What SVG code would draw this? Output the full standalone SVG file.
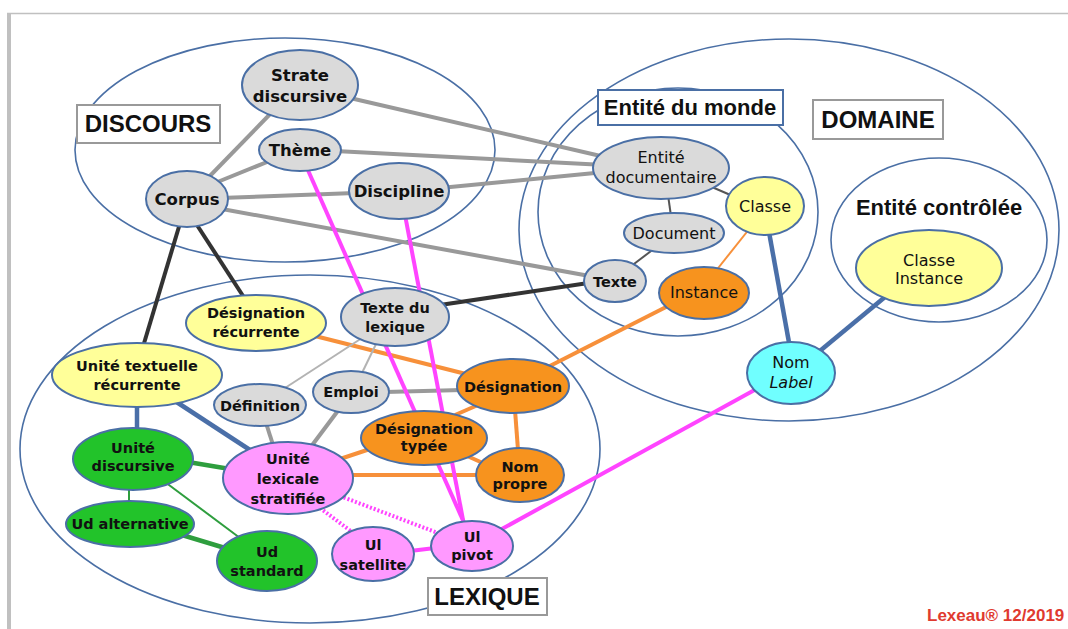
<svg xmlns="http://www.w3.org/2000/svg" width="1068" height="629" viewBox="0 0 1068 629">
<style>
.c{fill:none;stroke:#4a6fa5;stroke-width:1.6}
.n ellipse{stroke:#4a6fa5;stroke-width:2}
.g{fill:#dadada}.y{fill:#ffff99}.o{fill:#f7931e}.gr{fill:#22c32a}.p{fill:#ff99ff}.cy{fill:#70ffff}
.t{font-family:"DejaVu Sans",sans-serif;font-weight:bold;font-size:14.5px;fill:#111;text-anchor:middle}
.tb{font-size:16.5px}
.tr{font-weight:normal;font-size:16px}
.lb{fill:#fff;stroke:#999;stroke-width:2}
.lt{font-family:"Liberation Sans",Arial,sans-serif;font-weight:bold;font-size:24px;fill:#111;text-anchor:middle}
.k1{stroke:#999;stroke-width:4}
.k2{stroke:#b3b3b3;stroke-width:2}
.k3{stroke:#333;stroke-width:4}
.k4{stroke:#555;stroke-width:2}
.or{stroke:#f7903a;stroke-width:4}
.or2{stroke:#f7903a;stroke-width:2}
.bl{stroke:#4a6fa8;stroke-width:4.5}
.gn{stroke:#2e9e3e;stroke-width:4.5}
.gn2{stroke:#2e9e3e;stroke-width:2}
.mg{stroke:#ff44ff;stroke-width:4}
.md{stroke:#ff44ff;stroke-width:4;stroke-dasharray:2 2}
</style>
<rect width="1068" height="629" fill="#fff"/>
<g id="frame">
<rect x="7" y="13" width="4" height="616" fill="#c0c0c0"/>
<line x1="7" y1="13.5" x2="1068" y2="13.5" stroke="#c0c0c0" stroke-width="1.5"/>
</g>
<g id="containers">
<ellipse class="c" cx="285" cy="150" rx="210" ry="112"/>
<ellipse class="c" cx="310" cy="449" rx="290" ry="174"/>
<ellipse class="c" cx="789" cy="230" rx="270" ry="191"/>
<ellipse class="c" cx="678" cy="212" rx="140" ry="124"/>
<ellipse class="c" cx="939" cy="240" rx="108" ry="82"/>
</g>
<g id="connectors">
<line class="k1" x1="350" y1="98" x2="605" y2="157"/>
<line class="k1" x1="335" y1="151" x2="605" y2="165"/>
<line class="k1" x1="440" y1="188" x2="605" y2="172"/>
<line class="k1" x1="220" y1="198" x2="355" y2="193"/>
<line class="k1" x1="205" y1="181" x2="275" y2="109"/>
<line class="k1" x1="215" y1="183" x2="272" y2="160"/>
<line class="k1" x1="222" y1="209" x2="595" y2="277"/>
<line class="k3" x1="440" y1="305" x2="595" y2="282"/>
<line class="k3" x1="181" y1="220" x2="142" y2="350"/>
<line class="k3" x1="195" y1="222" x2="245" y2="299"/>
<line class="k4" x1="668" y1="195" x2="671" y2="216"/>
<line class="k4" x1="705" y1="184" x2="735" y2="197"/>
<line class="k4" x1="655" y1="248" x2="630" y2="267"/>
<line class="or2" x1="750" y1="228" x2="715" y2="272"/>
<line class="bl" x1="769" y1="232" x2="790" y2="348"/>
<line class="bl" x1="885" y1="297" x2="815" y2="355"/>
<line class="or" x1="670" y1="305" x2="540" y2="371"/>
<line class="or" x1="315" y1="336" x2="470" y2="375"/>
<line class="k2" x1="362" y1="338" x2="285" y2="388"/>
<line class="k2" x1="377" y1="342" x2="361" y2="375"/>
<line class="k1" x1="385" y1="392" x2="462" y2="390"/>
<line class="k1" x1="340" y1="408" x2="310" y2="448"/>
<line class="k1" x1="266" y1="423" x2="274" y2="448"/>
<line class="bl" x1="137" y1="403" x2="137" y2="431"/>
<line class="bl" x1="175" y1="401" x2="250" y2="450"/>
<line class="gn" x1="188" y1="462" x2="230" y2="469"/>
<line class="gn2" x1="129" y1="487" x2="129" y2="503"/>
<line class="gn2" x1="165" y1="482" x2="240" y2="538"/>
<line class="gn" x1="182" y1="535" x2="225" y2="548"/>
<line class="or" x1="340" y1="459" x2="370" y2="449"/>
<line class="or" x1="350" y1="475" x2="480" y2="475"/>
<line class="or" x1="478" y1="405" x2="455" y2="415"/>
<line class="or" x1="515" y1="410" x2="518" y2="450"/>
<line class="or" x1="465" y1="455" x2="485" y2="464"/>
<line class="md" x1="320" y1="508" x2="352" y2="532"/>
<line class="md" x1="340" y1="496" x2="438" y2="533"/>
<line class="mg" x1="410" y1="551" x2="435" y2="548"/>
<line class="mg" x1="500" y1="530" x2="760" y2="387"/>
<line class="mg" x1="307" y1="168" x2="465" y2="525"/>
<line class="mg" x1="405" y1="215" x2="464" y2="525"/>
</g>
<g id="strate" class="n"><ellipse class="g" cx="300" cy="85" rx="58" ry="35"/><text class="t tb" x="300" y="81">Strate</text><text class="t tb" x="300" y="102">discursive</text></g>
<g id="theme" class="n"><ellipse class="g" cx="300" cy="150" rx="41" ry="21"/><text class="t tb" x="300" y="156">Thème</text></g>
<g id="corpus" class="n"><ellipse class="g" cx="187" cy="199" rx="41" ry="28"/><text class="t tb" x="187" y="205">Corpus</text></g>
<g id="discipline" class="n"><ellipse class="g" cx="399" cy="191" rx="50" ry="28"/><text class="t tb" x="399" y="197">Discipline</text></g>
<g id="entite-doc" class="n"><ellipse class="g" cx="661" cy="168" rx="68" ry="31"/><text class="t tr" x="661" y="163">Entité</text><text class="t tr" x="661" y="183">documentaire</text></g>
<g id="classe" class="n"><ellipse class="y" cx="765" cy="206" rx="39" ry="29"/><text class="t tr" x="765" y="212">Classe</text></g>
<g id="document" class="n"><ellipse class="g" cx="674" cy="233" rx="50" ry="20"/><text class="t tr" x="674" y="239">Document</text></g>
<g id="texte" class="n"><ellipse class="g" cx="615" cy="281" rx="31" ry="21"/><text class="t" x="615" y="287">Texte</text></g>
<g id="instance" class="n"><ellipse class="o" cx="704" cy="293" rx="45" ry="26"/><text class="t tr" x="704" y="298">Instance</text></g>
<g id="classe-instance" class="n"><ellipse class="y" cx="929" cy="268" rx="73" ry="38"/><text class="t tr" x="929" y="266">Classe</text><text class="t tr" x="929" y="284">Instance</text></g>
<g id="nom-label" class="n"><ellipse class="cy" cx="791" cy="373" rx="44" ry="31"/><text class="t tr" x="791" y="368">Nom</text><text class="t tr" x="791" y="388" font-style="italic">Label</text></g>
<g id="texte-lexique" class="n"><ellipse class="g" cx="395" cy="317" rx="54" ry="29"/><text class="t" x="395" y="313">Texte du</text><text class="t" x="395" y="332">lexique</text></g>
<g id="designation-recurrente" class="n"><ellipse class="y" cx="256" cy="323" rx="70" ry="28"/><text class="t" x="256" y="318">Désignation</text><text class="t" x="256" y="337">récurrente</text></g>
<g id="utr" class="n"><ellipse class="y" cx="137" cy="375" rx="85" ry="32"/><text class="t" x="137" y="371">Unité textuelle</text><text class="t" x="137" y="390">récurrente</text></g>
<g id="definition" class="n"><ellipse class="g" cx="260" cy="405" rx="46" ry="21"/><text class="t" x="260" y="411">Définition</text></g>
<g id="emploi" class="n"><ellipse class="g" cx="351" cy="392" rx="38" ry="21"/><text class="t" x="351" y="397">Emploi</text></g>
<g id="designation" class="n"><ellipse class="o" cx="513" cy="386" rx="56" ry="27"/><text class="t" x="513" y="392">Désignation</text></g>
<g id="designation-typee" class="n"><ellipse class="o" cx="424" cy="438" rx="63" ry="27"/><text class="t" x="424" y="434">Désignation</text><text class="t" x="424" y="451">typée</text></g>
<g id="nom-propre" class="n"><ellipse class="o" cx="520" cy="475" rx="44" ry="27"/><text class="t" x="520" y="472">Nom</text><text class="t" x="520" y="489">propre</text></g>
<g id="unite-discursive" class="n"><ellipse class="gr" cx="133" cy="459" rx="60" ry="31"/><text class="t" x="133" y="453">Unité</text><text class="t" x="133" y="471">discursive</text></g>
<g id="uls" class="n"><ellipse class="p" cx="288" cy="478" rx="65" ry="36"/><text class="t" x="288" y="464">Unité</text><text class="t" x="288" y="484">lexicale</text><text class="t" x="288" y="504">stratifiée</text></g>
<g id="ud-alternative" class="n"><ellipse class="gr" cx="130" cy="524" rx="64" ry="23"/><text class="t" x="130" y="529">Ud alternative</text></g>
<g id="ud-standard" class="n"><ellipse class="gr" cx="267" cy="561" rx="50" ry="30"/><text class="t" x="267" y="557">Ud</text><text class="t" x="267" y="576">standard</text></g>
<g id="ui-satellite" class="n"><ellipse class="p" cx="373" cy="554" rx="41" ry="27"/><text class="t" x="373" y="550">Ul</text><text class="t" x="373" y="570">satellite</text></g>
<g id="ui-pivot" class="n"><ellipse class="p" cx="472" cy="546" rx="41" ry="25"/><text class="t" x="472" y="542">Ul</text><text class="t" x="472" y="560">pivot</text></g>
<g id="labels">
<rect class="lb" x="77" y="105" width="143" height="38"/><text class="lt" x="148" y="132">DISCOURS</text>
<rect class="lb" x="598" y="90" width="185" height="35" style="stroke:#4a6fa5"/><text class="lt" x="690" y="115" style="font-size:22px">Entité du monde</text>
<rect class="lb" x="813" y="100" width="130" height="39"/><text class="lt" x="878" y="128">DOMAINE</text>
<text class="lt" x="939" y="215" style="font-size:22px">Entité contrôlée</text>
<rect class="lb" x="428" y="578" width="119" height="37"/><text class="lt" x="487" y="605">LEXIQUE</text>
<text x="927" y="621" font-family="Liberation Sans, Arial, sans-serif" font-weight="bold" font-size="17" fill="#e03a2f">Lexeau® 12/2019</text>
</g>
</svg>
